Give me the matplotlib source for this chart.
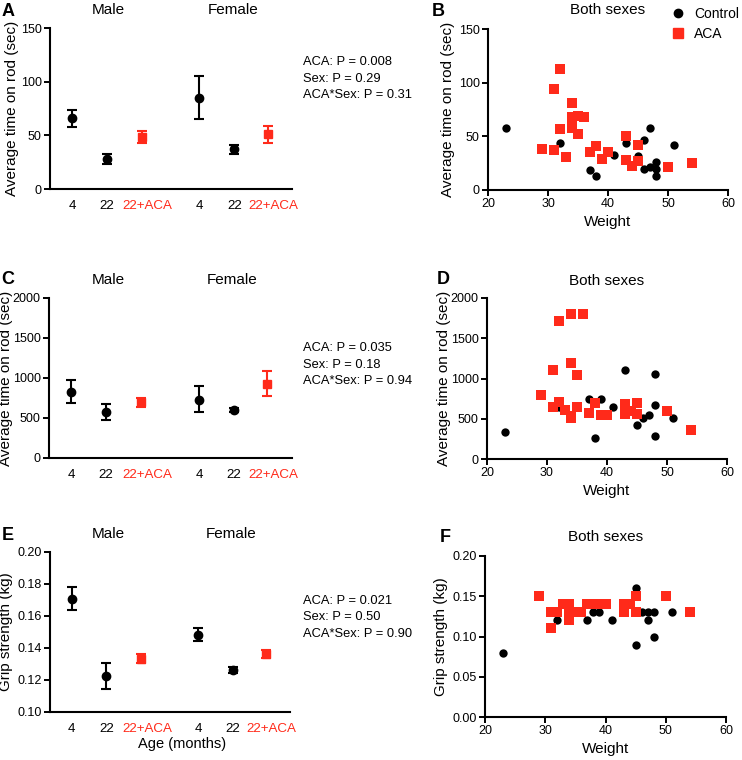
import matplotlib.pyplot as plt
import matplotlib.lines as mlines

plt.rcParams['font.family'] = ['Liberation Sans', 'DejaVu Sans']

RED = '#ff2a1a'

# group panels (A, C, E): Male 4, 22, 22+ACA, Female 4, 22, 22+ACA
groups = ['4', '22', '22+ACA', '4', '22', '22+ACA']
treated = [False, False, True, False, False, True]

rod_mean = [66, 28, 48, 85, 37, 51]
rod_lo = [58, 23, 43, 65, 33, 43]
rod_hi = [74, 33, 54, 105, 41, 59]

rod2_mean = [830, 575, 695, 730, 605, 930]
rod2_lo = [685, 470, 640, 570, 580, 775]
rod2_hi = [975, 680, 750, 895, 630, 1085]

grip_mean = [0.1708, 0.1225, 0.1333, 0.1483, 0.1260, 0.1363]
grip_lo = [0.1635, 0.1144, 0.1306, 0.1444, 0.1242, 0.1335]
grip_hi = [0.1780, 0.1304, 0.1365, 0.1523, 0.1280, 0.1385]

pvals_A = ['ACA: P = 0.008', 'Sex: P = 0.29', 'ACA*Sex: P = 0.31']
pvals_C = ['ACA: P = 0.035', 'Sex: P = 0.18', 'ACA*Sex: P = 0.94']
pvals_E = ['ACA: P = 0.021', 'Sex: P = 0.50', 'ACA*Sex: P = 0.90']

# scatter panels (B, D, F): weight vs. measure
ctrl_w_B = [23, 32, 37, 38, 41, 43, 45, 46, 46, 47, 47, 48, 48, 48, 51]
ctrl_y_B = [58, 44, 19, 13, 33, 44, 32, 47, 20, 58, 21, 26, 20, 13, 42]
aca_w_B = [29, 31, 31, 32, 32, 33, 34, 34, 34, 34, 35, 35, 36, 37, 38, 39, 40,
           43, 43, 44, 45, 45, 50, 54]
aca_y_B = [38, 94, 37, 113, 57, 31, 81, 68, 62, 58, 69, 52, 68, 35, 41, 29, 35,
           50, 28, 22, 42, 27, 21, 25]

ctrl_w_D = [23, 32, 37, 38, 39, 41, 43, 45, 45, 46, 47, 48, 48, 48, 51]
ctrl_y_D = [330, 640, 745, 255, 745, 640, 1105, 570, 425, 505, 545, 1050, 670,
            290, 505]
aca_w_D = [29, 31, 31, 32, 32, 33, 34, 34, 34, 34, 35, 35, 36, 37, 38, 39, 40,
           43, 43, 44, 45, 45, 50, 54]
aca_y_D = [790, 1100, 650, 1720, 710, 610, 1800, 1195, 540, 505, 1040, 645,
           1800, 570, 700, 550, 550, 685, 565, 600, 700, 560, 600, 360]

ctrl_w_F = [23, 32, 37, 38, 39, 41, 45, 45, 46, 47, 47, 48, 48, 51]
ctrl_y_F = [0.08, 0.12, 0.12, 0.13, 0.13, 0.12, 0.16, 0.09, 0.13, 0.13, 0.12,
            0.13, 0.10, 0.13]
aca_w_F = [29, 31, 31, 32, 33, 34, 34, 34, 35, 36, 37, 38, 39, 40, 43, 43, 44,
           45, 45, 50, 54]
aca_y_F = [0.15, 0.13, 0.11, 0.13, 0.14, 0.14, 0.13, 0.12, 0.13, 0.13, 0.14,
           0.14, 0.14, 0.14, 0.14, 0.13, 0.14, 0.15, 0.13, 0.15, 0.13]

W, H = 742, 760
fig = plt.figure(figsize=(W / 100, H / 100), dpi=100)


def box(l, t, r, b):
    return [l / W, 1 - b / H, (r - l) / W, (b - t) / H]


def ftext(x, y, s, **kw):
    fig.text(x / W, 1 - y / H, s, **kw)


def style(ax):
    for side in ['top', 'right']:
        ax.spines[side].set_visible(False)
    for side in ['left', 'bottom']:
        ax.spines[side].set_linewidth(1.5)
    ax.tick_params(direction='out', width=1.4, length=4, labelsize=9, pad=2)


# marker positions and (slightly shifted) label positions on the group axes
pos = [1, 2, 3, 4.65, 5.65, 6.6]
label_pos = [1, 2, 3.17, 4.65, 5.65, 6.77]


def group_panel(ax, mean, lo, hi, ylim, yticks, fmt, ylabel, lab_x):
    style(ax)
    for i in range(len(groups)):
        c = RED if treated[i] else 'black'
        m = 's' if treated[i] else 'o'
        ax.errorbar(pos[i], mean[i], yerr=[[mean[i] - lo[i]], [hi[i] - mean[i]]],
                    fmt=m, color=c, ms=6, capsize=3.5, elinewidth=1.5,
                    capthick=1.5, clip_on=False)
    ax.set_xlim(0.37, 7.3)
    ax.set_ylim(*ylim)
    ax.set_yticks(yticks)
    ax.set_yticklabels([fmt.format(v) for v in yticks])
    ax.set_xticks(label_pos)
    ax.set_xticklabels(groups, fontsize=9.6)
    ax.tick_params(axis='x', length=0, pad=8)
    for t, tr in zip(ax.get_xticklabels(), treated):
        t.set_color(RED if tr else 'black')
    ax.set_ylabel(ylabel, fontsize=11)
    ax.yaxis.set_label_coords(lab_x, 0.5)
    ax.text(2.05, 1.11, 'Male', transform=ax.get_xaxis_transform(),
            ha='center', va='center', fontsize=11)
    ax.text(5.6, 1.11, 'Female', transform=ax.get_xaxis_transform(),
            ha='center', va='center', fontsize=11)


def scatter_panel(ax, cw, cy, aw, ay, ylim, yticks, fmt, ylabel, lab_x, title_y):
    style(ax)
    ax.scatter(cw, cy, s=36, marker='o', color='black', linewidths=0,
               clip_on=False, zorder=3)
    ax.scatter(aw, ay, s=42, marker='s', color=RED, linewidths=0,
               clip_on=False, zorder=3)
    ax.set_xlim(20, 60)
    ax.set_xticks([20, 30, 40, 50, 60])
    ax.set_ylim(*ylim)
    ax.set_yticks(yticks)
    ax.set_yticklabels([fmt.format(v) for v in yticks])
    ax.set_xlabel('Weight', fontsize=11)
    ax.xaxis.set_label_coords(0.5, -0.155)
    ax.set_ylabel(ylabel, fontsize=11)
    ax.yaxis.set_label_coords(lab_x, 0.5)
    ax.text(0.5, title_y, 'Both sexes', transform=ax.transAxes,
            ha='center', va='center', fontsize=11)


axA = fig.add_axes(box(50, 28, 292, 189))
axB = fig.add_axes(box(488, 29, 728, 190))
axC = fig.add_axes(box(49, 298, 292, 458))
axD = fig.add_axes(box(487, 298, 727, 459))
axE = fig.add_axes(box(50, 552, 290, 712))
axF = fig.add_axes(box(485, 556, 726, 717))

group_panel(axA, rod_mean, rod_lo, rod_hi, (0, 150), [0, 50, 100, 150], '{:g}',
            'Average time on rod (sec)', -0.128)
group_panel(axC, rod2_mean, rod2_lo, rod2_hi, (0, 2000),
            [0, 500, 1000, 1500, 2000], '{:g}',
            'Average time on rod (sec)', -0.15)
group_panel(axE, grip_mean, grip_lo, grip_hi, (0.10, 0.20),
            [0.10, 0.12, 0.14, 0.16, 0.18, 0.20], '{:.2f}',
            'Grip strength (kg)', -0.155)
axE.set_xlabel('Age (months)', fontsize=10.5)
axE.xaxis.set_label_coords((182 - 50) / 240, -0.155)

scatter_panel(axB, ctrl_w_B, ctrl_y_B, aca_w_B, aca_y_B, (0, 150),
              [0, 50, 100, 150], '{:g}', 'Average time on rod (sec)', -0.1375,
              1.12)
scatter_panel(axD, ctrl_w_D, ctrl_y_D, aca_w_D, aca_y_D, (0, 2000),
              [0, 500, 1000, 1500, 2000], '{:g}',
              'Average time on rod (sec)', -0.15, 1.105)
scatter_panel(axF, ctrl_w_F, ctrl_y_F, aca_w_F, aca_y_F, (0, 0.20),
              [0.0, 0.05, 0.10, 0.15, 0.20], '{:.2f}',
              'Grip strength (kg)', -0.152, 1.12)

# legend in B
h_ctrl = mlines.Line2D([], [], marker='o', color='black', ls='none', ms=6)
h_aca = mlines.Line2D([], [], marker='s', color=RED, ls='none', ms=6.5)
fig.legend([h_ctrl, h_aca], ['Control', 'ACA'], loc='upper left',
           bbox_to_anchor=(670 / W, 1 - 7 / H), frameon=False, fontsize=10,
           handlelength=1.2, handletextpad=0.55, labelspacing=0.45,
           borderpad=0, borderaxespad=0)

# p-values
for lines, y0 in [(pvals_A, 62), (pvals_C, 348), (pvals_E, 601)]:
    for k, s in enumerate(lines):
        ftext(303, y0 + k * 16.5, s, fontsize=9.3, va='center', ha='left')

# panel letters
for s, x, y in [('A', 8, 12), ('B', 438, 12), ('C', 8, 279), ('D', 443, 279),
                ('E', 8, 536), ('F', 445, 537)]:
    ftext(x, y, s, fontsize=13, fontweight='bold', va='center', ha='center')

fig.savefig('out.png', dpi=100)
